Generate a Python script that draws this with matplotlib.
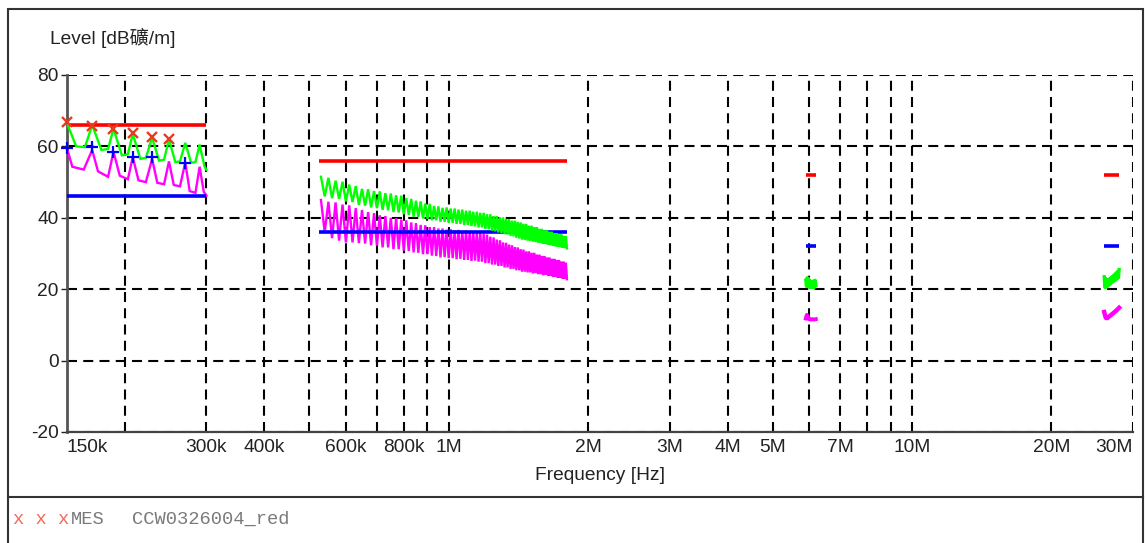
import matplotlib
matplotlib.use('Agg')
import matplotlib.pyplot as plt
from matplotlib.lines import Line2D
from matplotlib.patches import Rectangle

# ---------------- data ----------------
band_start_mhz = [0.15, 0.525, 5.9, 26.0]
band_stop_mhz = [0.30, 1.8, 6.2, 28.0]
limit_peak_db = [66, 56, 52, 52]      # red limit
limit_avg_db = [46, 36, 32, 32]       # blue limit

# band 1 (LW) traces, kHz / dBuV/m
seg1_green_khz = [150, 157, 164, 170, 178, 184, 189, 197, 203, 208, 216, 222, 229, 237, 243, 249, 257, 263, 270, 278, 284, 290, 297, 300]
seg1_green_db = [66.5, 60.0, 59.8, 66.0, 59.0, 59.3, 65.0, 57.5, 57.8, 63.5, 56.5, 56.8, 62.5, 56.0, 56.3, 62.0, 55.6, 55.8, 61.0, 55.4, 55.6, 60.5, 54.5, 53.4]
seg1_mag_khz = [150, 154, 163, 170, 175, 184, 189, 195, 203, 208, 214, 222, 229, 235, 243, 249, 255, 263, 270, 276, 284, 290, 296, 300]
seg1_mag_db = [59.5, 54.3, 53.5, 59.0, 53.0, 51.5, 58.5, 51.8, 50.8, 57.0, 50.5, 50.0, 56.5, 49.8, 49.4, 55.8, 49.2, 48.8, 55.5, 47.5, 47.0, 54.3, 47.3, 46.2]

# QP / AV measured points
qp_mark_khz = [150, 170, 189, 208, 229, 249]
qp_mark_db = [66.9, 65.8, 64.9, 63.7, 62.7, 62.0]
av_mark_khz = [150, 170, 189, 208, 229, 270]
av_mark_db = [59.6, 59.9, 58.5, 57.1, 57.1, 55.3]

# band 2 (MW) traces
seg2_peak_khz = [530, 550, 570, 590, 610, 630, 650, 670, 690, 710, 730, 750, 770, 790, 810, 830,
                 850, 870, 890, 910, 930, 950, 970, 990, 1010, 1030, 1050, 1070, 1090, 1110, 1130, 1150,
                 1170, 1190, 1210, 1230, 1250, 1270, 1290, 1310, 1330, 1350, 1370, 1390, 1410, 1430, 1450, 1470,
                 1490, 1510, 1530, 1550, 1570, 1590, 1610, 1630, 1650, 1670, 1690, 1710, 1730, 1750, 1770, 1790]
seg2_trough_khz = [540, 560, 580, 600, 620, 640, 660, 680, 700, 720, 740, 760, 780, 800, 820, 840,
                   860, 880, 900, 920, 940, 960, 980, 1000, 1020, 1040, 1060, 1080, 1100, 1120, 1140, 1160,
                   1180, 1200, 1220, 1240, 1260, 1280, 1300, 1320, 1340, 1360, 1380, 1400, 1420, 1440, 1460, 1480,
                   1500, 1520, 1540, 1560, 1580, 1600, 1620, 1640, 1660, 1680, 1700, 1720, 1740, 1760, 1780, 1800]
seg2_green_peak_db = [51.5, 51.2, 50.4, 50.1, 49.3, 48.9, 48.1, 48.0, 47.5, 47.4,
                      46.9, 46.8, 46.3, 46.2, 45.5, 45.3, 44.8, 44.6, 44.0, 43.9,
                      43.3, 43.2, 42.8, 42.9, 42.6, 42.6, 42.3, 42.3, 42.0, 42.0,
                      41.7, 41.7, 41.4, 41.4, 41.0, 41.0, 40.5, 40.5, 40.1, 40.1,
                      39.7, 39.6, 39.2, 39.2, 38.8, 38.7, 38.3, 38.3, 37.8, 37.8,
                      37.4, 37.4, 36.9, 36.9, 36.5, 36.5, 36.1, 36.1, 35.7, 35.7,
                      35.3, 35.3, 34.9, 34.9]
seg2_green_trough_db = [46.0, 45.5, 45.3, 44.6, 44.4, 43.6, 43.4, 42.9, 42.7, 42.2,
                        42.1, 41.6, 41.5, 41.0, 40.8, 40.3, 40.2, 39.8, 39.7, 39.3,
                        39.3, 38.9, 38.9, 38.6, 38.6, 38.3, 38.3, 38.0, 38.0, 37.7,
                        37.6, 37.3, 37.3, 36.9, 36.8, 36.4, 36.2, 35.9, 35.7, 35.4,
                        35.3, 34.9, 34.8, 34.4, 34.2, 33.9, 33.8, 33.6, 33.5, 33.3,
                        33.2, 33.0, 32.9, 32.7, 32.6, 32.5, 32.3, 32.2, 32.0, 31.9,
                        31.8, 31.6, 31.5, 31.4]
seg2_mag_peak_db = [45.0, 44.5, 44.3, 43.7, 43.5, 42.7, 42.2, 41.6, 41.3, 40.7,
                    40.5, 40.0, 39.9, 39.5, 39.3, 38.7, 38.5, 38.0, 37.9, 37.4,
                    37.4, 37.0, 37.0, 36.7, 36.8, 36.5, 36.6, 36.3, 36.4, 36.1,
                    36.2, 35.9, 36.0, 35.5, 35.3, 34.7, 34.5, 33.9, 33.7, 33.1,
                    33.0, 32.5, 32.3, 31.8, 31.7, 31.2, 31.1, 30.6, 30.6, 30.2,
                    30.2, 29.7, 29.7, 29.3, 29.3, 28.9, 28.9, 28.5, 28.5, 28.1,
                    28.1, 27.7, 27.7, 27.4]
seg2_mag_trough_db = [36.0, 34.3, 33.6, 33.1, 33.1, 32.9, 32.8, 32.3, 32.2, 31.7,
                      31.7, 31.2, 31.2, 30.8, 30.7, 30.3, 30.2, 29.8, 29.8, 29.4,
                      29.3, 28.9, 29.0, 28.7, 28.7, 28.4, 28.5, 28.2, 28.2, 27.9,
                      28.0, 27.7, 27.7, 27.3, 27.3, 26.9, 26.9, 26.5, 26.5, 26.1,
                      26.1, 25.7, 25.7, 25.3, 25.3, 24.9, 24.9, 24.7, 24.7, 24.4,
                      24.5, 24.2, 24.2, 23.9, 24.0, 23.7, 23.7, 23.4, 23.5, 23.2,
                      23.2, 23.0, 23.0, 22.8]

# band 3 (SW) traces, MHz
seg3_green_mhz = [5.90, 5.92, 5.94, 5.96, 5.98, 6.00, 6.02, 6.04, 6.06, 6.08, 6.10, 6.12, 6.14, 6.16, 6.18, 6.20]
seg3_green_db = [22.5, 20.8, 23.2, 21.0, 23.0, 20.6, 22.4, 20.5, 22.2, 20.6, 22.0, 20.5, 22.3, 20.6, 22.5, 21.0]
seg3_mag_mhz = [5.90, 5.93, 5.96, 6.00, 6.05, 6.10, 6.15, 6.20]
seg3_mag_db = [11.8, 12.8, 12.3, 11.6, 11.5, 11.6, 11.5, 11.6]

# band 4 (CB) traces, MHz
seg4_green_mhz = [26.0, 26.1, 26.2, 26.3, 26.4, 26.5, 26.6, 26.7, 26.8, 26.9, 27.0,
                  27.1, 27.2, 27.3, 27.4, 27.5, 27.6, 27.7, 27.8, 27.9, 28.0]
seg4_green_db = [23.5, 20.5, 23.0, 20.6, 22.6, 20.9, 22.8, 21.3, 23.1, 21.7, 23.4,
                 22.0, 23.8, 22.3, 24.2, 22.6, 24.6, 22.9, 25.0, 23.2, 25.5]
seg4_mag_mhz = [26.0, 26.2, 26.4, 26.8, 27.2, 27.6, 28.0]
seg4_mag_db = [13.6, 12.0, 11.9, 12.6, 13.3, 14.0, 14.8]

# axis ticks
grid_hz = [150e3, 200e3, 300e3, 400e3, 500e3, 600e3, 700e3, 800e3, 900e3, 1e6,
           2e6, 3e6, 4e6, 5e6, 6e6, 7e6, 8e6, 9e6, 10e6, 20e6, 30e6]
grid_labels = ['150k', '', '300k', '400k', '', '600k', '', '800k', '', '1M',
               '2M', '3M', '4M', '5M', '', '7M', '', '', '10M', '20M', '30M']
y_ticks = [-20, 0, 20, 40, 60, 80]

# ---------------- figure ----------------
W, H = 1145, 543
fig = plt.figure(figsize=(W / 100, H / 100), dpi=100)
fig.patch.set_facecolor('white')

ax_l, ax_r, ax_t, ax_b = 67, 1133, 75, 432
ax = fig.add_axes([ax_l / W, 1 - ax_b / H, (ax_r - ax_l) / W, (ax_b - ax_t) / H])
ax.set_xscale('log')
ax.set_xlim(150e3, 30e6)
ax.set_ylim(-20, 80)

sans = ['Liberation Sans', 'Noto Sans CJK SC']
FS = 13.8

# grid (dashed)
dash = (0, (4.8, 3.0))
for gx in grid_hz[1:]:
    ax.axvline(gx, color='black', lw=1.5, ls=dash, zorder=1)
for gy in y_ticks:
    ax.axhline(gy, color='black', lw=1.5, ls=dash, zorder=1)

for s in ['top', 'right']:
    ax.spines[s].set_visible(False)
ax.spines['left'].set_color('#555555')
ax.spines['left'].set_linewidth(2.0)
ax.spines['bottom'].set_color('#444444')
ax.spines['bottom'].set_linewidth(1.6)

ax.set_xticks(grid_hz)
ax.set_xticklabels(grid_labels)
ax.minorticks_off()
ax.set_yticks(y_ticks)
ax.set_yticklabels([str(v) for v in y_ticks])
ax.tick_params(axis='both', labelsize=FS, colors='#222222', length=4, width=1.0, pad=2)
ax.tick_params(axis='x', length=0, pad=5)
for lab in ax.get_xticklabels() + ax.get_yticklabels():
    lab.set_family(sans)
xl = ax.get_xticklabels()
xl[0].set_horizontalalignment('left')
xl[-1].set_horizontalalignment('right')

# magenta (average) traces
mag_kw = dict(color='#ff00ff', lw=1.7, zorder=3, solid_joinstyle='miter')
ax.plot([f * 1e3 for f in seg1_mag_khz], seg1_mag_db, **mag_kw)
seg2_m = sorted(list(zip(seg2_peak_khz, seg2_mag_peak_db)) + list(zip(seg2_trough_khz, seg2_mag_trough_db)))
ax.plot([p[0] * 1e3 for p in seg2_m], [p[1] for p in seg2_m], **mag_kw)
ax.plot([f * 1e6 for f in seg3_mag_mhz], seg3_mag_db, color='#ff00ff', lw=2.8, zorder=3)
ax.plot([f * 1e6 for f in seg4_mag_mhz], seg4_mag_db, color='#ff00ff', lw=3.2, zorder=3)

# limit lines
for fs, fe, lp, la in zip(band_start_mhz, band_stop_mhz, limit_peak_db, limit_avg_db):
    ax.plot([fs * 1e6, fe * 1e6], [lp, lp], color='#ff0000', lw=2.6, zorder=4, solid_capstyle='butt')
    ax.plot([fs * 1e6, fe * 1e6], [la, la], color='#0000ff', lw=2.6, zorder=4, solid_capstyle='butt')

# green (peak) traces
grn_kw = dict(color='#00ff00', lw=1.7, zorder=5, solid_joinstyle='miter')
ax.plot([f * 1e3 for f in seg1_green_khz], seg1_green_db, **grn_kw)
seg2_g = sorted(list(zip(seg2_peak_khz, seg2_green_peak_db)) + list(zip(seg2_trough_khz, seg2_green_trough_db)))
ax.plot([p[0] * 1e3 for p in seg2_g], [p[1] for p in seg2_g], **grn_kw)
ax.plot([f * 1e6 for f in seg3_green_mhz], seg3_green_db, color='#00ff00', lw=2.4, zorder=5)
ax.plot([f * 1e6 for f in seg4_green_mhz], seg4_green_db, color='#00ff00', lw=2.4, zorder=5)

# measurement markers
ax.plot([f * 1e3 for f in qp_mark_khz], qp_mark_db, ls='none', marker='x', ms=7.5,
        mew=1.7, color='#e83a1e', zorder=6, clip_on=False)
ax.plot([f * 1e3 for f in av_mark_khz], av_mark_db, ls='none', marker='+', ms=9,
        mew=1.6, color='#0000ff', zorder=6, clip_on=False)

# labels
fig.text(50 / W, 1 - 38 / H, 'Level [dB礦/m]', fontsize=FS, family=sans,
         color='#222222', ha='left', va='center')
fig.text(600 / W, 1 - 476 / H, 'Frequency [Hz]', fontsize=FS, family=sans,
         color='#222222', ha='center', va='center')

# outer frame and separator
fig.add_artist(Rectangle((8 / W, -0.05), (1143 - 8) / W, 1.05 - 9 / H, transform=fig.transFigure,
                         fill=False, edgecolor='#333333', lw=1.5))
fig.add_artist(Line2D([8 / W, 1143 / W], [1 - 497 / H, 1 - 497 / H], transform=fig.transFigure,
                      color='#333333', lw=1.5))

# legend line
mono = ['Liberation Mono', 'DejaVu Sans Mono']
LFS = 13.5
fig.text(13 / W, 1 - 519 / H, 'x x x', fontsize=LFS, family=mono, color='#f26a5a', ha='left', va='center')
fig.text(71 / W, 1 - 519 / H, 'MES', fontsize=LFS, family=mono, color='#7a7a7a', ha='left', va='center')
fig.text(132 / W, 1 - 519 / H, 'CCW0326004_red', fontsize=LFS, family=mono, color='#7a7a7a',
         ha='left', va='center')

fig.savefig('out.png', dpi=100, facecolor='white')
